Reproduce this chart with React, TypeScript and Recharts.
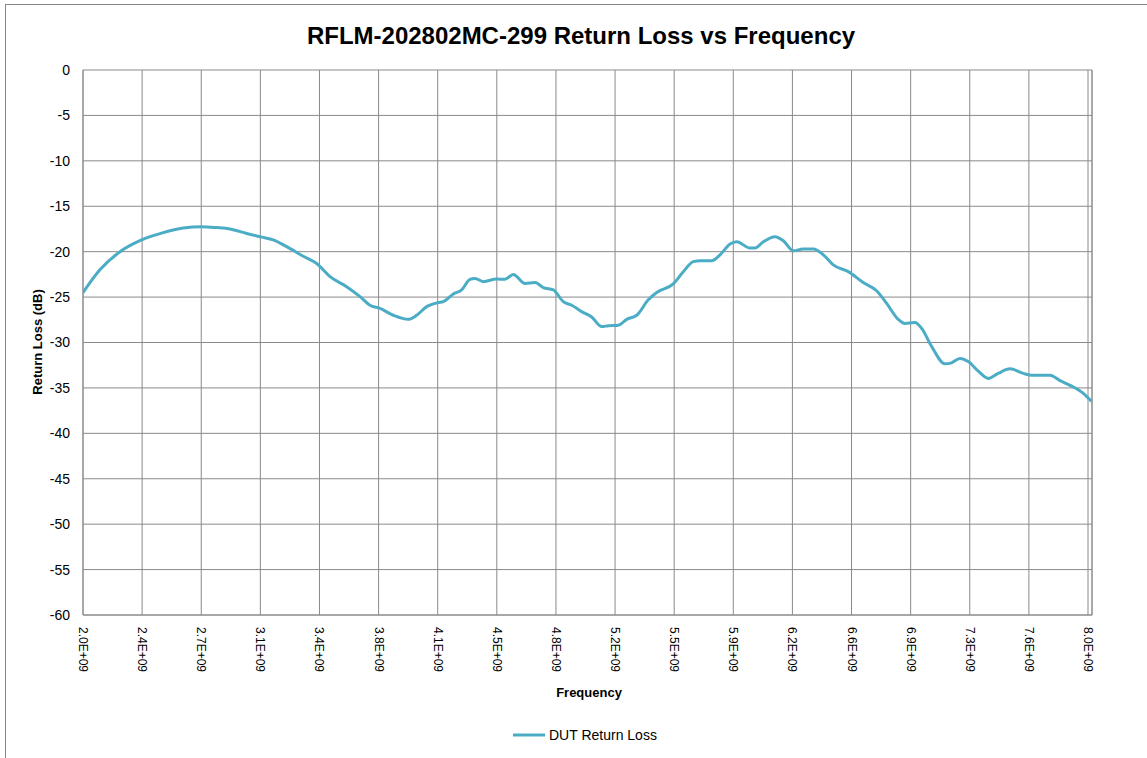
import React from "react";
import { LineChart, Line, XAxis, YAxis, CartesianGrid, ReferenceLine } from "recharts";

// Frequency in GHz
const freqGHz = [
  2.0, 2.101, 2.221, 2.35, 2.479, 2.599, 2.709, 2.798, 2.878, 2.977, 3.067, 3.136, 3.216, 3.315,
  3.395, 3.475, 3.574, 3.654, 3.713, 3.773, 3.853, 3.942, 3.992, 4.052, 4.121, 4.151, 4.211,
  4.261, 4.31, 4.34, 4.39, 4.47, 4.519, 4.569, 4.639, 4.699, 4.748, 4.808, 4.867, 4.918, 4.977,
  5.037, 5.097, 5.136, 5.196, 5.246, 5.306, 5.375, 5.425, 5.524, 5.584, 5.644, 5.684, 5.753,
  5.803, 5.863, 5.903, 5.982, 6.012, 6.062, 6.131, 6.181, 6.241, 6.3, 6.36, 6.42, 6.479, 6.569,
  6.658, 6.738, 6.798, 6.867, 6.907, 6.967, 7.007, 7.067, 7.146, 7.176, 7.236, 7.285, 7.345,
  7.405, 7.464, 7.534, 7.614, 7.664, 7.773, 7.833, 7.903, 7.972, 8.022,
];

// Return loss in dB
const returnLoss = [
  -24.5, -22.0, -20.0, -18.7, -17.9, -17.4, -17.25, -17.35, -17.5, -18.0, -18.4, -18.7, -19.45,
  -20.5, -21.3, -22.75, -23.85, -24.95, -25.9, -26.25, -27.0, -27.45, -27.0, -26.05, -25.6, -25.5,
  -24.65, -24.2, -23.05, -22.95, -23.3, -23.0, -23.05, -22.5, -23.5, -23.4, -23.95, -24.2, -25.5,
  -25.9, -26.6, -27.2, -28.25, -28.15, -28.1, -27.45, -27.0, -25.3, -24.5, -23.55, -22.2, -21.1,
  -21.0, -21.0, -20.35, -19.15, -18.9, -19.6, -19.6, -18.9, -18.35, -18.8, -19.9, -19.7, -19.7,
  -20.35, -21.45, -22.2, -23.4, -24.3, -25.7, -27.45, -27.9, -27.8, -28.45, -30.45, -32.35,
  -32.3, -31.75, -32.1, -33.15, -33.95, -33.4, -32.9, -33.4, -33.6, -33.6, -34.2, -34.8, -35.6,
  -36.5,
];

const xTickLabels = [
  "2.0E+09", "2.4E+09", "2.7E+09", "3.1E+09", "3.4E+09", "3.8E+09", "4.1E+09", "4.5E+09",
  "4.8E+09", "5.2E+09", "5.5E+09", "5.9E+09", "6.2E+09", "6.6E+09", "6.9E+09", "7.3E+09",
  "7.6E+09", "8.0E+09",
];
const yTicks = [0, -5, -10, -15, -20, -25, -30, -35, -40, -45, -50, -55, -60];

const X_START = 2e9;
const X_END = 8e9;
const X_STEP = (X_END - X_START) / (xTickLabels.length - 1);
const X_MAX = X_START + (X_END - X_START) * (1009 / 1005);
const xTickValues = xTickLabels.map((_, i) => X_START + i * X_STEP);

const data = freqGHz.map((f, i) => ({ freq: f * 1e9, rl: returnLoss[i] }));

const FONT = "'Liberation Sans', Arial, sans-serif";
const GRID = "#8a8a8a";
const LINE_COLOR = "#4BACC6";

const XTick = (props: any) => {
  const { x, y, payload } = props;
  const idx = Math.round((payload.value - X_START) / X_STEP);
  const label = xTickLabels[idx] ?? "";
  return (
    <text
      x={x}
      y={y}
      transform={`rotate(90 ${x} ${y})`}
      textAnchor="start"
      dominantBaseline="central"
      fontFamily={FONT}
      fontSize={12}
      fill="#000"
    >
      {label}
    </text>
  );
};

export default function App() {
  return (
    <div
      style={{
        position: "absolute",
        left: 0,
        top: 0,
        width: 1147,
        height: 758,
        overflow: "hidden",
        background: "#fff",
      }}
    >
      <div
        style={{
          position: "absolute",
          left: 5,
          top: 4,
          width: 1160,
          height: 780,
          borderLeft: "1px solid #868686",
          borderTop: "1px solid #868686",
        }}
      />
      <div style={{ position: "absolute", left: 0, top: 0 }}>
        <LineChart
          width={1147}
          height={758}
          data={data}
          margin={{ top: 70, right: 55, left: 23, bottom: 83 }}
        >
          <CartesianGrid stroke={GRID} strokeWidth={1} vertical={true} horizontal={true} />
          <XAxis
            dataKey="freq"
            type="number"
            domain={[X_START, X_MAX]}
            ticks={xTickValues}
            interval={0}
            height={60}
            tickSize={0}
            tickMargin={12}
            tick={<XTick />}
            axisLine={{ stroke: GRID }}
            tickLine={false}
            allowDataOverflow={true}
          />
          <YAxis
            type="number"
            domain={[-60, 0]}
            ticks={yTicks}
            interval={0}
            width={60}
            tickSize={0}
            tickMargin={13}
            tickLine={false}
            axisLine={{ stroke: GRID }}
            tick={{ fontFamily: FONT, fontSize: 14, fill: "#000" }}
          />
          <ReferenceLine x={X_MAX} stroke={GRID} strokeWidth={1} ifOverflow="extendDomain" />
          <Line
            type="monotone"
            dataKey="rl"
            stroke={LINE_COLOR}
            strokeWidth={3}
            dot={false}
            isAnimationActive={false}
          />
        </LineChart>
      </div>
      <svg
        width={1147}
        height={758}
        style={{ position: "absolute", left: 0, top: 0, pointerEvents: "none" }}
      >
        <text
          x={581}
          y={35}
          textAnchor="middle"
          dominantBaseline="central"
          fontFamily={FONT}
          fontWeight="bold"
          fontSize={24}
          fill="#000"
        >
          RFLM-202802MC-299 Return Loss vs Frequency
        </text>
        <text
          x={37}
          y={342}
          transform="rotate(-90 37 342)"
          textAnchor="middle"
          dominantBaseline="central"
          fontFamily={FONT}
          fontWeight="bold"
          fontSize={13}
          fill="#000"
        >
          Return Loss (dB)
        </text>
        <text
          x={589}
          y={692}
          textAnchor="middle"
          dominantBaseline="central"
          fontFamily={FONT}
          fontWeight="bold"
          fontSize={13}
          fill="#000"
        >
          Frequency
        </text>
        <line x1={513} y1={735} x2={545} y2={735} stroke={LINE_COLOR} strokeWidth={3} />
        <text
          x={549}
          y={735}
          textAnchor="start"
          dominantBaseline="central"
          fontFamily={FONT}
          fontSize={14}
          fill="#000"
        >
          DUT Return Loss
        </text>
      </svg>
    </div>
  );
}
